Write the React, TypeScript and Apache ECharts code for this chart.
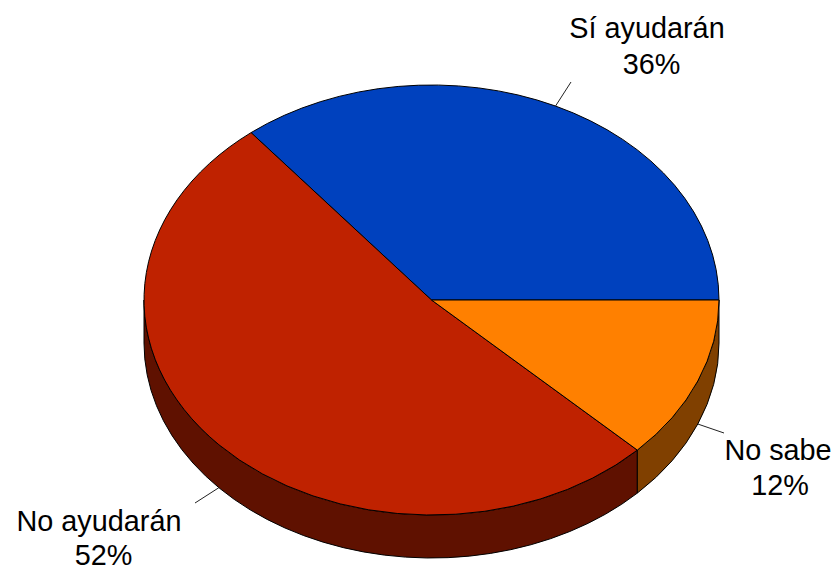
import React, { useEffect, useRef } from "react";
import * as echarts from "echarts";

const categories = ["Sí ayudarán", "No ayudarán", "No sabe"];
const shares = [35.8, 51.9, 12.3];

const topColors = ["#0041BE", "#BF2200", "#FF8000"];
const wallColors = ["#002060", "#5F1100", "#804000"];
const CX = 431.5;
const CY = 300;
const RX = 287.5;
const RY = 215;
const DEPTH = 43;
const FONT_SIZE = 28.8;
const nameCentres = [
  [647, 28],
  [99, 521],
  [778, 450],
];
const percentCentres = [
  [651.5, 64],
  [103.5, 555],
  [780, 485],
];
const leaderEnds = [
  [571, 82],
  [195, 503],
  [724, 433],
];

const total = shares.reduce((a, b) => a + b, 0);
const rad = (d: number) => (d * Math.PI) / 180;
const px = (deg: number) => CX + RX * Math.cos(rad(deg));
const py = (deg: number, dy = 0) => CY - RY * Math.sin(rad(deg)) + dy;

function topPath(a: number, b: number) {
  const large = b - a > 180 ? 1 : 0;
  return `M${CX} ${CY}L${px(a)} ${py(a)}A${RX} ${RY} 0 ${large} 0 ${px(b)} ${py(b)}Z`;
}

function wallPath(a: number, b: number) {
  return (
    `M${px(a)} ${py(a)}A${RX} ${RY} 0 0 0 ${px(b)} ${py(b)}` +
    `L${px(b)} ${py(b, DEPTH)}A${RX} ${RY} 0 0 1 ${px(a)} ${py(a, DEPTH)}Z`
  );
}

const textStyle = (text: string) => ({
  text,
  fill: "#000",
  fontFamily: "Liberation Sans",
  fontSize: FONT_SIZE,
  align: "center",
  verticalAlign: "middle",
});

export default function App() {
  const ref = useRef<HTMLDivElement>(null);
  useEffect(() => {
    const chart = echarts.init(ref.current!, undefined, { renderer: "svg" });
    const rows = shares.map((v, i) => {
      const start = shares.slice(0, i).reduce((a, b) => a + b, 0);
      return [i, v, (start / total) * 360, ((start + v) / total) * 360];
    });
    chart.setOption({
      animation: false,
      backgroundColor: "#ffffff",
      series: [
        {
          type: "custom",
          coordinateSystem: "none",
          silent: true,
          data: rows,
          renderItem: (_p: any, api: any) => {
            const i = api.value(0);
            const a = api.value(2);
            const b = api.value(3);
            const children: any[] = [];
            const wa = Math.max(a, 180);
            const wb = Math.min(b, 360);
            if (wb > wa) {
              children.push({
                type: "path",
                shape: { pathData: wallPath(wa, wb) },
                style: { fill: wallColors[i], stroke: "#000", lineWidth: 1 },
              });
            }
            children.push({
              type: "path",
              shape: { pathData: topPath(a, b) },
              style: { fill: topColors[i], stroke: "#000", lineWidth: 1 },
            });
            const mid = (a + b) / 2;
            const lowerHalf = mid > 180;
            children.push({
              type: "line",
              shape: {
                x1: px(mid),
                y1: py(mid, lowerHalf ? DEPTH : 0),
                x2: leaderEnds[i][0],
                y2: leaderEnds[i][1],
              },
              style: { stroke: "#222", lineWidth: 1 },
            });
            children.push({
              type: "text",
              x: nameCentres[i][0],
              y: nameCentres[i][1],
              style: textStyle(categories[i]),
            });
            children.push({
              type: "text",
              x: percentCentres[i][0],
              y: percentCentres[i][1],
              style: textStyle(`${Math.round((api.value(1) / total) * 100)}%`),
            });
            return { type: "group", children };
          },
        },
      ],
    });
    return () => chart.dispose();
  }, []);
  return (
    <div
      ref={ref}
      style={{ position: "absolute", left: 0, top: 0, width: 838, height: 571 }}
    />
  );
}
